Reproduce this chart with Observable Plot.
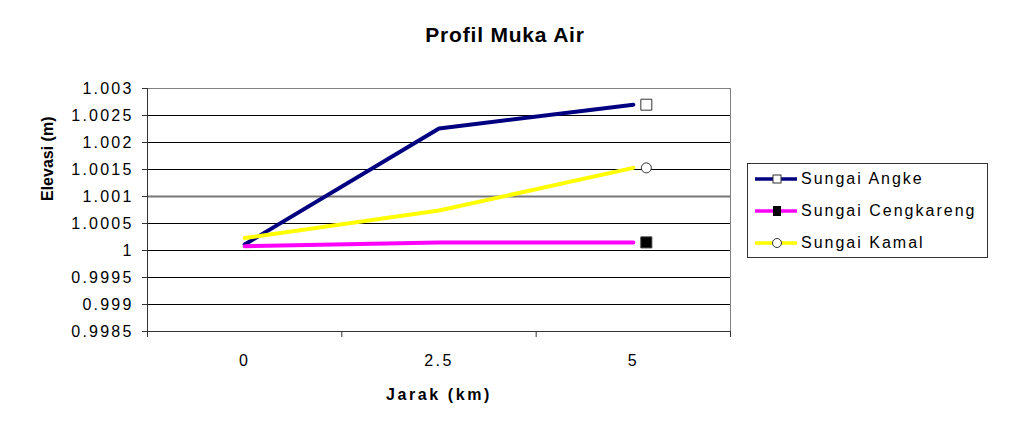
<!DOCTYPE html>
<html>
<head>
<meta charset="utf-8">
<script src="https://cdn.jsdelivr.net/npm/d3@7"></script>
<script src="https://cdn.jsdelivr.net/npm/@observablehq/plot@0.6"></script>
<style>
  html, body { margin: 0; padding: 0; background: #fff; }
  #wrap { position: relative; width: 1016px; height: 432px; font-family: "Liberation Sans", Arial, sans-serif; }
  #legend { position: absolute; left: 747px; top: 163px; width: 239px; height: 93px; border: 1px solid #333; background: #fff; }
  .item { position: absolute; left: 7px; height: 22px; display: flex; align-items: center; font-size: 16px; letter-spacing: 2px; color: #000; white-space: nowrap; }
  .item svg { margin-right: 4px; }
</style>
</head>
<body>
<div id="wrap"></div>
<script>
const title = "Profil Muka Air";
const xTitle = "Jarak (km)";
const yTitle = "Elevasi (m)";
const distances = [0, 2.5, 5];
const xBoundaries = [-1.25, 1.25, 3.75, 6.25];
const yTicks = [0.9985, 0.999, 0.9995, 1, 1.0005, 1.001, 1.0015, 1.002, 1.0025, 1.003];
const seriesNames = ["Sungai Angke", "Sungai Cengkareng", "Sungai Kamal"];
const angke = [1.00011, 1.00226, 1.0027];
const cengkareng = [1.00008, 1.00015, 1.00015];
const kamal = [1.00023, 1.00074, 1.00153];
const colors = ["#000080", "#FF00FF", "#FFFF00"];
const markerSymbols = ["square", "square", "circle"];
const markerFills = ["#fff", "#000", "#fff"];

const valuesBySeries = [angke, cengkareng, kamal];
const rows = [];
seriesNames.forEach((s, i) => distances.forEach((d, j) => rows.push({series: s, x: d, y: valuesBySeries[i][j]})));
const last = distances.length - 1;
const lastRows = seriesNames.map((s, i) => ({series: s, x: distances[last], y: valuesBySeries[i][last], idx: i}));

const font = "'Liberation Sans', Arial, sans-serif";
const fmt = d => String(+d.toFixed(4));

const chart = Plot.plot({
  width: 1016,
  height: 432,
  marginLeft: 147,
  marginRight: 286,
  marginTop: 88,
  marginBottom: 101,
  style: {fontFamily: font, fontSize: "16px", color: "#000", background: "#fff"},
  x: {type: "linear", domain: [xBoundaries[0], xBoundaries[xBoundaries.length - 1]]},
  y: {domain: [yTicks[0], yTicks[yTicks.length - 1]]},
  color: {domain: seriesNames, range: colors},
  r: {type: "identity"},
  marks: [
    Plot.gridY(yTicks, {stroke: "#000", strokeOpacity: 1, strokeWidth: 1}),
    Plot.gridY([1.001], {stroke: "#777", strokeOpacity: 1, strokeWidth: 2}),
    Plot.frame({stroke: "#808080"}),
    Plot.ruleX([xBoundaries[0]], {stroke: "#333"}),
    Plot.ruleY([yTicks[0]], {stroke: "#333"}),
    Plot.axisY(yTicks, {tickSize: 5, tickPadding: 9, tickFormat: fmt, label: null, stroke: "#333", fontSize: 16}),
    Plot.axisX(xBoundaries, {tickSize: 6, tickFormat: () => "", label: null, stroke: "#333"}),
    Plot.axisX(distances, {tickSize: 0, tickPadding: 23, tickFormat: d => String(d), label: null, fontSize: 16}),
    Plot.line(rows, {x: "x", y: "y", z: "series", stroke: "series", strokeWidth: 4}),
    Plot.dot(lastRows, {x: "x", y: "y", dx: 13, symbol: d => markerSymbols[d.idx], fill: d => markerFills[d.idx], stroke: "#333", strokeWidth: 1, r: d => markerSymbols[d.idx] === "circle" ? 5 : 6.2}),
    Plot.text([title], {frameAnchor: "top", dx: 66, dy: -61, fontSize: 21, fontWeight: "bold"}),
    Plot.text([xTitle], {frameAnchor: "bottom", dy: 68, fontSize: 16, fontWeight: "bold"}),
    Plot.text([yTitle], {frameAnchor: "left", dx: -100, dy: -9, rotate: -90, fontSize: 16, fontWeight: "bold"})
  ]
});

// Excel-style wide letter spacing
chart.querySelectorAll('g[aria-label="y-axis tick label"] text').forEach(t => t.setAttribute("letter-spacing", "2.2"));
chart.querySelectorAll('g[aria-label="x-axis tick label"] text').forEach(t => t.setAttribute("letter-spacing", "2.5"));
chart.querySelectorAll('g[aria-label="text"] text').forEach(t => {
  if (t.textContent === xTitle) t.setAttribute("letter-spacing", "2.6");
  if (t.textContent === title) t.setAttribute("letter-spacing", "0.8");
});

const wrap = document.getElementById("wrap");
wrap.appendChild(chart);

const legend = document.createElement("div");
legend.id = "legend";
seriesNames.forEach((s, i) => {
  const item = document.createElement("div");
  item.className = "item";
  item.style.top = (4 + i * 32) + "px";
  const sym = markerSymbols[i] === "circle"
    ? `<circle cx="22" cy="11" r="4.5" fill="${markerFills[i]}" stroke="#333"/>`
    : (markerFills[i] === "#000"
      ? `<rect x="18" y="6" width="8" height="10" fill="#000"/>`
      : `<rect x="18" y="7" width="8" height="8" fill="#fff" stroke="#333"/>`);
  item.innerHTML = `<svg width="42" height="22"><line x1="0" y1="11" x2="42" y2="11" stroke="${colors[i]}" stroke-width="3.5"/>${sym}</svg><span>${s}</span>`;
  legend.appendChild(item);
});
wrap.appendChild(legend);
</script>
</body>
</html>
